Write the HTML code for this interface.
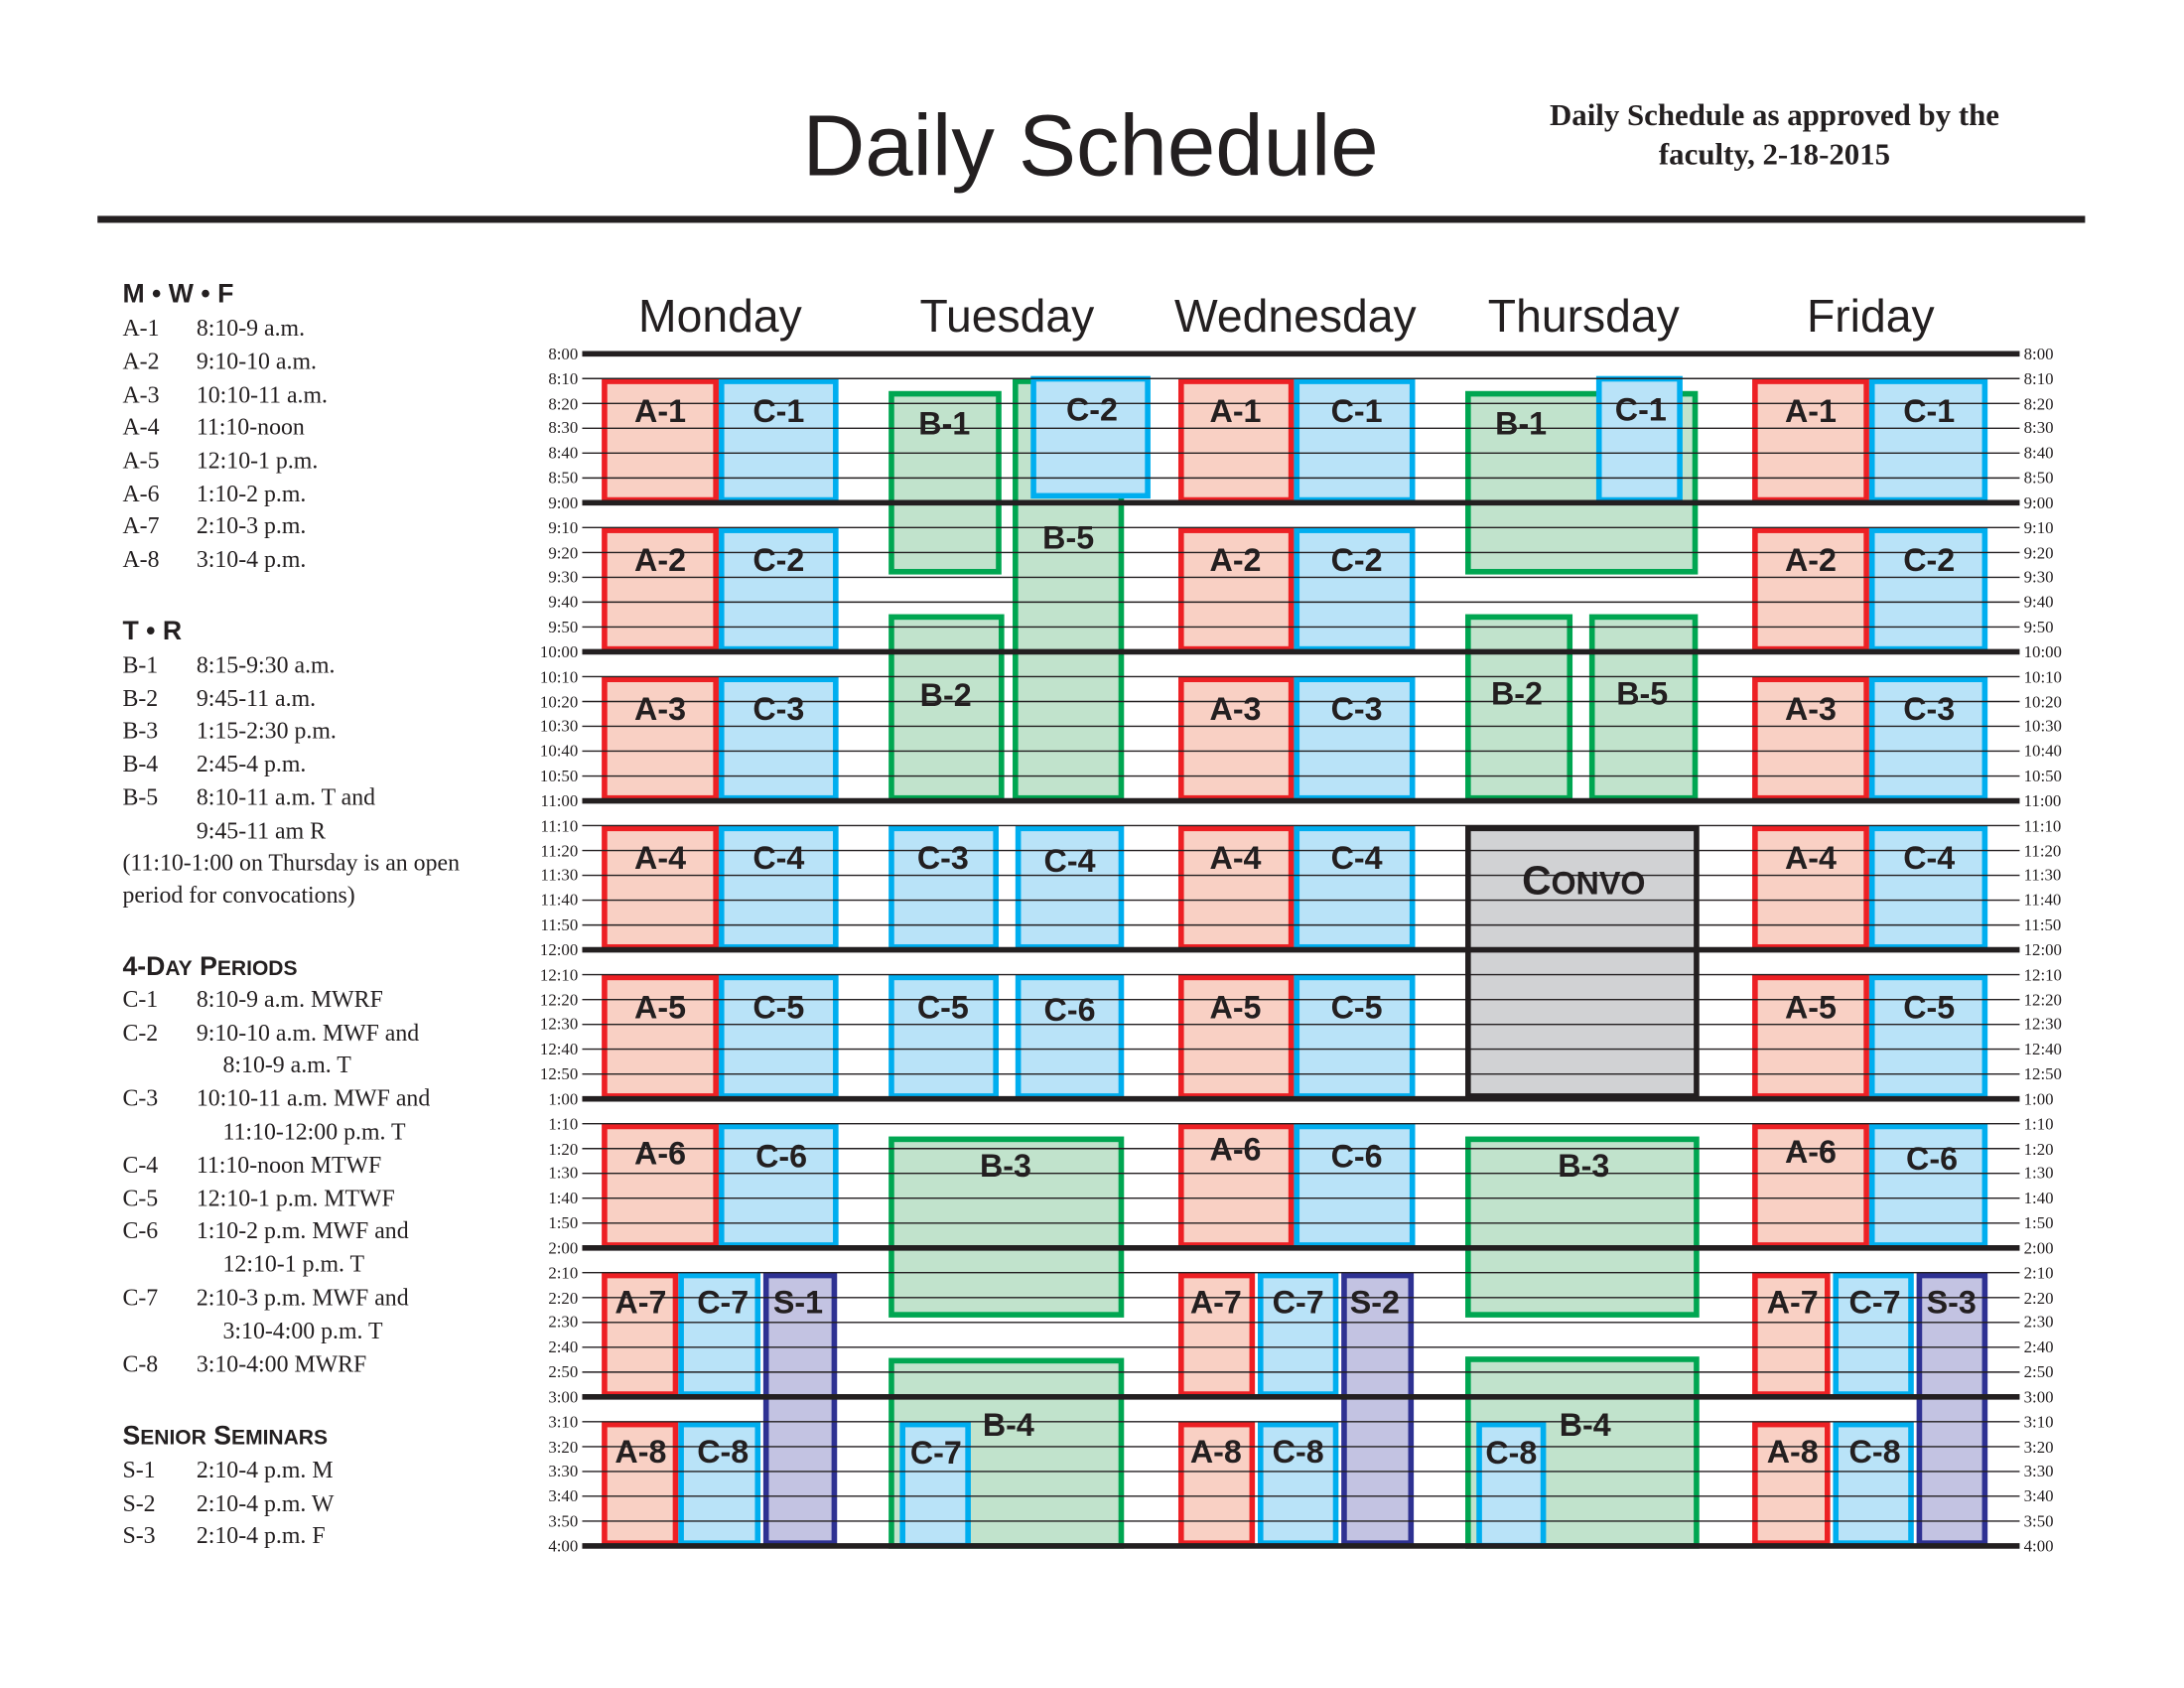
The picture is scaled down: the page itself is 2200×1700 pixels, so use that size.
<!DOCTYPE html>
<html><head><meta charset="utf-8"><style>
html,body{margin:0;padding:0;background:#fff;}
svg{display:block;}
.tl{font-family:"Liberation Serif",serif;font-size:12px;fill:#231f20;}
.lg{font-family:"Liberation Serif",serif;font-size:17px;fill:#231f20;}
.hd{font-family:"Liberation Sans",sans-serif;font-size:19px;font-weight:bold;fill:#231f20;}
.day{font-family:"Liberation Sans",sans-serif;font-size:33px;fill:#231f20;text-anchor:middle;}
.bl{font-family:"Liberation Sans",sans-serif;font-size:23px;font-weight:bold;fill:#231f20;text-anchor:middle;}
.a{fill:#f9d0c4;stroke:#ed2024;stroke-width:4;}
.c{fill:#b9e3f8;stroke:#00aeef;stroke-width:4;}
.b{fill:#c1e3cc;stroke:#00a651;stroke-width:4;}
.s{fill:#c3c3e2;stroke:#2e3192;stroke-width:4;}
.v{fill:#d1d2d4;stroke:#231f20;stroke-width:4;}
</style></head><body>
<svg width="2200" height="1700" viewBox="0 0 1568 1212" preserveAspectRatio="none" xmlns="http://www.w3.org/2000/svg">
<text x="783" y="126" font-family="Liberation Sans,sans-serif" font-size="62" fill="#231f20" text-anchor="middle">Daily Schedule</text>
<text x="1274" y="90" font-family="Liberation Serif,serif" font-size="22" font-weight="bold" fill="#231f20" text-anchor="middle">Daily Schedule as approved by the</text>
<text x="1274" y="118" font-family="Liberation Serif,serif" font-size="22" font-weight="bold" fill="#231f20" text-anchor="middle">faculty, 2-18-2015</text>
<rect x="70" y="155" width="1427" height="5" fill="#231f20"/>

<text class="day" x="517" y="238">Monday</text>
<text class="day" x="723" y="238">Tuesday</text>
<text class="day" x="930" y="238">Wednesday</text>
<text class="day" x="1137" y="238">Thursday</text>
<text class="day" x="1343" y="238">Friday</text>

<g>
<rect class="a" x="434" y="273.8" width="80" height="85.2"/><rect class="c" x="518" y="273.8" width="82" height="85.2"/>
<rect class="a" x="434" y="380.8" width="80" height="85.2"/><rect class="c" x="518" y="380.8" width="82" height="85.2"/>
<rect class="a" x="434" y="487.8" width="80" height="85.2"/><rect class="c" x="518" y="487.8" width="82" height="85.2"/>
<rect class="a" x="434" y="594.8" width="80" height="85.2"/><rect class="c" x="518" y="594.8" width="82" height="85.2"/>
<rect class="a" x="434" y="701.8" width="80" height="85.2"/><rect class="c" x="518" y="701.8" width="82" height="85.2"/>
<rect class="a" x="434" y="808.8" width="80" height="85.2"/><rect class="c" x="518" y="808.8" width="82" height="85.2"/>
<rect class="a" x="434" y="915.8" width="51" height="85.2"/><rect class="c" x="489" y="915.8" width="55" height="85.2"/>
<rect class="a" x="434" y="1022.8" width="51" height="85.2"/><rect class="c" x="489" y="1022.8" width="55" height="85.2"/>
<rect class="s" x="550" y="915.8" width="49" height="192.2"/>
<rect class="a" x="848" y="273.8" width="79" height="85.2"/><rect class="c" x="931" y="273.8" width="83" height="85.2"/>
<rect class="a" x="848" y="380.8" width="79" height="85.2"/><rect class="c" x="931" y="380.8" width="83" height="85.2"/>
<rect class="a" x="848" y="487.8" width="79" height="85.2"/><rect class="c" x="931" y="487.8" width="83" height="85.2"/>
<rect class="a" x="848" y="594.8" width="79" height="85.2"/><rect class="c" x="931" y="594.8" width="83" height="85.2"/>
<rect class="a" x="848" y="701.8" width="79" height="85.2"/><rect class="c" x="931" y="701.8" width="83" height="85.2"/>
<rect class="a" x="848" y="808.8" width="79" height="85.2"/><rect class="c" x="931" y="808.8" width="83" height="85.2"/>
<rect class="a" x="848" y="915.8" width="51" height="85.2"/><rect class="c" x="905" y="915.8" width="54" height="85.2"/>
<rect class="a" x="848" y="1022.8" width="51" height="85.2"/><rect class="c" x="905" y="1022.8" width="54" height="85.2"/>
<rect class="s" x="965" y="915.8" width="48" height="192.2"/>
<rect class="a" x="1260" y="273.8" width="80" height="85.2"/><rect class="c" x="1344" y="273.8" width="81" height="85.2"/>
<rect class="a" x="1260" y="380.8" width="80" height="85.2"/><rect class="c" x="1344" y="380.8" width="81" height="85.2"/>
<rect class="a" x="1260" y="487.8" width="80" height="85.2"/><rect class="c" x="1344" y="487.8" width="81" height="85.2"/>
<rect class="a" x="1260" y="594.8" width="80" height="85.2"/><rect class="c" x="1344" y="594.8" width="81" height="85.2"/>
<rect class="a" x="1260" y="701.8" width="80" height="85.2"/><rect class="c" x="1344" y="701.8" width="81" height="85.2"/>
<rect class="a" x="1260" y="808.8" width="80" height="85.2"/><rect class="c" x="1344" y="808.8" width="81" height="85.2"/>
<rect class="a" x="1260" y="915.8" width="52" height="85.2"/><rect class="c" x="1318" y="915.8" width="54" height="85.2"/>
<rect class="a" x="1260" y="1022.8" width="52" height="85.2"/><rect class="c" x="1318" y="1022.8" width="54" height="85.2"/>
<rect class="s" x="1378" y="915.8" width="47" height="192.2"/>
<rect class="b" x="640" y="282.75" width="77" height="127.75"/>
<rect class="b" x="729" y="273.8" width="76" height="299.2"/>
<rect class="c" x="742" y="272" width="82" height="84"/>
<rect class="b" x="640" y="443" width="79" height="130"/>
<rect class="c" x="640" y="594.8" width="75" height="85.2"/><rect class="c" x="731" y="594.8" width="74" height="85.2"/>
<rect class="c" x="640" y="701.8" width="75" height="85.2"/><rect class="c" x="731" y="701.8" width="74" height="85.2"/>
<rect class="b" x="640" y="818" width="165" height="126"/>
<rect class="b" x="640" y="977" width="165" height="133"/>
<rect class="c" x="648" y="1022.8" width="47" height="87"/>
<rect class="b" x="1054" y="282.75" width="163" height="127.75"/>
<rect class="c" x="1148" y="272" width="58" height="87"/>
<rect class="b" x="1054" y="443" width="73" height="130"/>
<rect class="b" x="1143" y="443" width="74" height="130"/>
<rect class="v" x="1054" y="594.8" width="164" height="192.2"/>
<rect class="b" x="1054" y="818" width="164" height="126"/>
<rect class="b" x="1054" y="976" width="164" height="134"/>
<rect class="c" x="1062" y="1022.8" width="46" height="87"/>
</g>

<path d="M418 271.8H1450M418 289.7H1450M418 307.5H1450M418 325.3H1450M418 343.2H1450M418 378.8H1450M418 396.7H1450M418 414.5H1450M418 432.3H1450M418 450.2H1450M418 485.8H1450M418 503.7H1450M418 521.5H1450M418 539.3H1450M418 557.2H1450M418 592.8H1450M418 610.7H1450M418 628.5H1450M418 646.3H1450M418 664.2H1450M418 699.8H1450M418 717.7H1450M418 735.5H1450M418 753.3H1450M418 771.2H1450M418 806.8H1450M418 824.7H1450M418 842.5H1450M418 860.3H1450M418 878.2H1450M418 913.8H1450M418 931.7H1450M418 949.5H1450M418 967.3H1450M418 985.2H1450M418 1020.8H1450M418 1038.7H1450M418 1056.5H1450M418 1074.3H1450M418 1092.2H1450" stroke="#231f20" stroke-width="1" fill="none"/>
<path d="M418 254H1450M418 361H1450M418 468H1450M418 575H1450M418 682H1450M418 789H1450M418 896H1450M418 1003H1450M418 1110H1450" stroke="#231f20" stroke-width="4" fill="none"/>

<g class="bl">
<text x="474" y="303">A-1</text><text x="559" y="303">C-1</text>
<text x="474" y="410">A-2</text><text x="559" y="410">C-2</text>
<text x="474" y="517">A-3</text><text x="559" y="517">C-3</text>
<text x="474" y="624">A-4</text><text x="559" y="624">C-4</text>
<text x="474" y="731">A-5</text><text x="559" y="731">C-5</text>
<text x="474" y="836">A-6</text><text x="561" y="838">C-6</text>
<text x="460" y="943">A-7</text><text x="519" y="943">C-7</text><text x="573" y="943">S-1</text>
<text x="460" y="1050">A-8</text><text x="519" y="1050">C-8</text>
<text x="887" y="303">A-1</text><text x="974" y="303">C-1</text>
<text x="887" y="410">A-2</text><text x="974" y="410">C-2</text>
<text x="887" y="517">A-3</text><text x="974" y="517">C-3</text>
<text x="887" y="624">A-4</text><text x="974" y="624">C-4</text>
<text x="887" y="731">A-5</text><text x="974" y="731">C-5</text>
<text x="887" y="833">A-6</text><text x="974" y="838">C-6</text>
<text x="873" y="943">A-7</text><text x="932" y="943">C-7</text><text x="987" y="943">S-2</text>
<text x="873" y="1050">A-8</text><text x="932" y="1050">C-8</text>
<text x="1300" y="303">A-1</text><text x="1385" y="303">C-1</text>
<text x="1300" y="410">A-2</text><text x="1385" y="410">C-2</text>
<text x="1300" y="517">A-3</text><text x="1385" y="517">C-3</text>
<text x="1300" y="624">A-4</text><text x="1385" y="624">C-4</text>
<text x="1300" y="731">A-5</text><text x="1385" y="731">C-5</text>
<text x="1300" y="835">A-6</text><text x="1387" y="840">C-6</text>
<text x="1287" y="943">A-7</text><text x="1346" y="943">C-7</text><text x="1401" y="943">S-3</text>
<text x="1287" y="1050">A-8</text><text x="1346" y="1050">C-8</text>
<text x="678" y="312">B-1</text><text x="784" y="302">C-2</text><text x="767" y="394">B-5</text>
<text x="679" y="507">B-2</text><text x="677" y="624">C-3</text><text x="768" y="626">C-4</text>
<text x="677" y="731">C-5</text><text x="768" y="733">C-6</text>
<text x="722" y="845">B-3</text><text x="724" y="1031">B-4</text><text x="672" y="1051">C-7</text>
<text x="1092" y="312">B-1</text><text x="1178" y="302">C-1</text>
<text x="1089" y="506">B-2</text><text x="1179" y="506">B-5</text>
<text x="1137" y="845">B-3</text><text x="1138" y="1031">B-4</text><text x="1085" y="1051">C-8</text>
<text x="1137" y="642" font-size="29">C<tspan font-size="23">ONVO</tspan></text>
</g>

<g class="tl" text-anchor="end">
<text x="415" y="258">8:00</text><text x="415" y="276">8:10</text><text x="415" y="294">8:20</text><text x="415" y="311">8:30</text><text x="415" y="329">8:40</text><text x="415" y="347">8:50</text>
<text x="415" y="365">9:00</text><text x="415" y="383">9:10</text><text x="415" y="401">9:20</text><text x="415" y="418">9:30</text><text x="415" y="436">9:40</text><text x="415" y="454">9:50</text>
<text x="415" y="472">10:00</text><text x="415" y="490">10:10</text><text x="415" y="508">10:20</text><text x="415" y="525">10:30</text><text x="415" y="543">10:40</text><text x="415" y="561">10:50</text>
<text x="415" y="579">11:00</text><text x="415" y="597">11:10</text><text x="415" y="615">11:20</text><text x="415" y="632">11:30</text><text x="415" y="650">11:40</text><text x="415" y="668">11:50</text>
<text x="415" y="686">12:00</text><text x="415" y="704">12:10</text><text x="415" y="722">12:20</text><text x="415" y="739">12:30</text><text x="415" y="757">12:40</text><text x="415" y="775">12:50</text>
<text x="415" y="793">1:00</text><text x="415" y="811">1:10</text><text x="415" y="829">1:20</text><text x="415" y="846">1:30</text><text x="415" y="864">1:40</text><text x="415" y="882">1:50</text>
<text x="415" y="900">2:00</text><text x="415" y="918">2:10</text><text x="415" y="936">2:20</text><text x="415" y="953">2:30</text><text x="415" y="971">2:40</text><text x="415" y="989">2:50</text>
<text x="415" y="1007">3:00</text><text x="415" y="1025">3:10</text><text x="415" y="1043">3:20</text><text x="415" y="1060">3:30</text><text x="415" y="1078">3:40</text><text x="415" y="1096">3:50</text>
<text x="415" y="1114">4:00</text>
</g>
<g class="tl">
<text x="1453" y="258">8:00</text><text x="1453" y="276">8:10</text><text x="1453" y="294">8:20</text><text x="1453" y="311">8:30</text><text x="1453" y="329">8:40</text><text x="1453" y="347">8:50</text>
<text x="1453" y="365">9:00</text><text x="1453" y="383">9:10</text><text x="1453" y="401">9:20</text><text x="1453" y="418">9:30</text><text x="1453" y="436">9:40</text><text x="1453" y="454">9:50</text>
<text x="1453" y="472">10:00</text><text x="1453" y="490">10:10</text><text x="1453" y="508">10:20</text><text x="1453" y="525">10:30</text><text x="1453" y="543">10:40</text><text x="1453" y="561">10:50</text>
<text x="1453" y="579">11:00</text><text x="1453" y="597">11:10</text><text x="1453" y="615">11:20</text><text x="1453" y="632">11:30</text><text x="1453" y="650">11:40</text><text x="1453" y="668">11:50</text>
<text x="1453" y="686">12:00</text><text x="1453" y="704">12:10</text><text x="1453" y="722">12:20</text><text x="1453" y="739">12:30</text><text x="1453" y="757">12:40</text><text x="1453" y="775">12:50</text>
<text x="1453" y="793">1:00</text><text x="1453" y="811">1:10</text><text x="1453" y="829">1:20</text><text x="1453" y="846">1:30</text><text x="1453" y="864">1:40</text><text x="1453" y="882">1:50</text>
<text x="1453" y="900">2:00</text><text x="1453" y="918">2:10</text><text x="1453" y="936">2:20</text><text x="1453" y="953">2:30</text><text x="1453" y="971">2:40</text><text x="1453" y="989">2:50</text>
<text x="1453" y="1007">3:00</text><text x="1453" y="1025">3:10</text><text x="1453" y="1043">3:20</text><text x="1453" y="1060">3:30</text><text x="1453" y="1078">3:40</text><text x="1453" y="1096">3:50</text>
<text x="1453" y="1114">4:00</text>
</g>

<text class="hd" x="88" y="217">M • W • F</text>
<g class="lg">
<text x="88" y="241">A-1</text><text x="141" y="241">8:10-9 a.m.</text>
<text x="88" y="265">A-2</text><text x="141" y="265">9:10-10 a.m.</text>
<text x="88" y="289">A-3</text><text x="141" y="289">10:10-11 a.m.</text>
<text x="88" y="312">A-4</text><text x="141" y="312">11:10-noon</text>
<text x="88" y="336">A-5</text><text x="141" y="336">12:10-1 p.m.</text>
<text x="88" y="360">A-6</text><text x="141" y="360">1:10-2 p.m.</text>
<text x="88" y="383">A-7</text><text x="141" y="383">2:10-3 p.m.</text>
<text x="88" y="407">A-8</text><text x="141" y="407">3:10-4 p.m.</text>
</g>
<text class="hd" x="88" y="459">T • R</text>
<g class="lg">
<text x="88" y="483">B-1</text><text x="141" y="483">8:15-9:30 a.m.</text>
<text x="88" y="507">B-2</text><text x="141" y="507">9:45-11 a.m.</text>
<text x="88" y="530">B-3</text><text x="141" y="530">1:15-2:30 p.m.</text>
<text x="88" y="554">B-4</text><text x="141" y="554">2:45-4 p.m.</text>
<text x="88" y="578">B-5</text><text x="141" y="578">8:10-11 a.m. T and</text>
<text x="141" y="602">9:45-11 am R</text>
<text x="88" y="625">(11:10-1:00 on Thursday is an open</text>
<text x="88" y="648">period for convocations)</text>
</g>
<text class="hd" x="88" y="700">4-D<tspan font-size="15">AY</tspan> P<tspan font-size="15">ERIODS</tspan></text>
<g class="lg">
<text x="88" y="723">C-1</text><text x="141" y="723">8:10-9 a.m. MWRF</text>
<text x="88" y="747">C-2</text><text x="141" y="747">9:10-10 a.m. MWF and</text>
<text x="160" y="770">8:10-9 a.m. T</text>
<text x="88" y="794">C-3</text><text x="141" y="794">10:10-11 a.m. MWF and</text>
<text x="160" y="818">11:10-12:00 p.m. T</text>
<text x="88" y="842">C-4</text><text x="141" y="842">11:10-noon MTWF</text>
<text x="88" y="866">C-5</text><text x="141" y="866">12:10-1 p.m. MTWF</text>
<text x="88" y="889">C-6</text><text x="141" y="889">1:10-2 p.m. MWF and</text>
<text x="160" y="913">12:10-1 p.m. T</text>
<text x="88" y="937">C-7</text><text x="141" y="937">2:10-3 p.m. MWF and</text>
<text x="160" y="961">3:10-4:00 p.m. T</text>
<text x="88" y="985">C-8</text><text x="141" y="985">3:10-4:00 MWRF</text>
</g>
<text class="hd" x="88" y="1037">S<tspan font-size="15">ENIOR</tspan> S<tspan font-size="15">EMINARS</tspan></text>
<g class="lg">
<text x="88" y="1061">S-1</text><text x="141" y="1061">2:10-4 p.m. M</text>
<text x="88" y="1085">S-2</text><text x="141" y="1085">2:10-4 p.m. W</text>
<text x="88" y="1108">S-3</text><text x="141" y="1108">2:10-4 p.m. F</text>
</g>
</svg>
</body></html>
